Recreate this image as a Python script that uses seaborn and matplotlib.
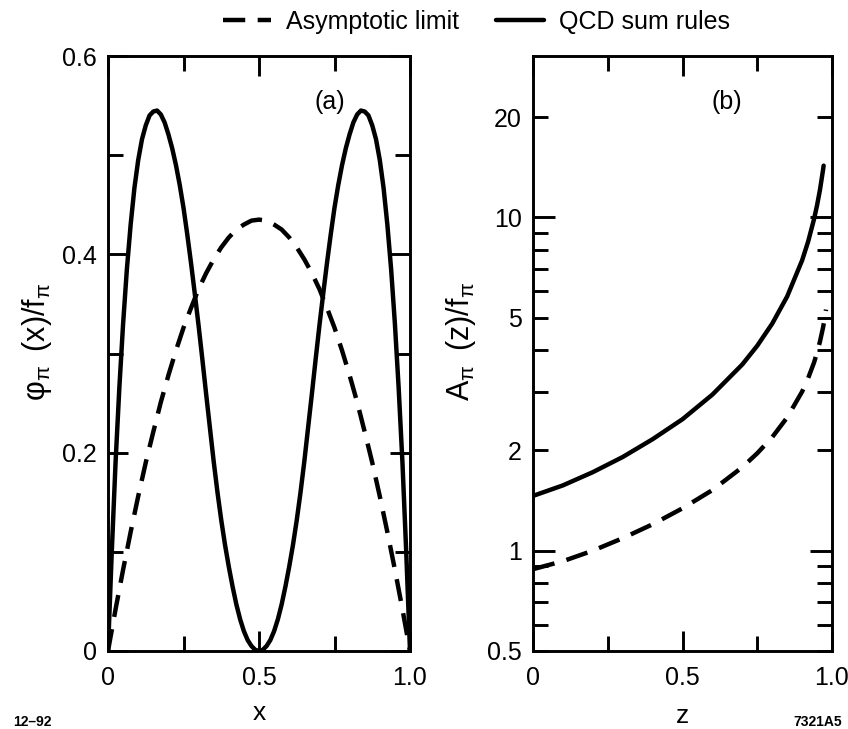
import numpy as np
import pandas as pd
import matplotlib
matplotlib.use("Agg")
import matplotlib.pyplot as plt
from matplotlib.lines import Line2D
from matplotlib.ticker import FixedLocator, NullFormatter
import seaborn as sns

# ---- panel (a): pion distribution amplitude phi_pi(x)/f_pi ----
x_asym = [0.0, 0.025, 0.05, 0.075, 0.1, 0.125, 0.15, 0.175, 0.2, 0.225,
          0.25, 0.275, 0.3, 0.325, 0.35, 0.375, 0.4, 0.425, 0.45, 0.475,
          0.5, 0.525, 0.55, 0.575, 0.6, 0.625, 0.65, 0.675, 0.7, 0.725,
          0.75, 0.775, 0.8, 0.825, 0.85, 0.875, 0.9, 0.925, 0.95, 0.975, 1.0]
phi_asymptotic = [0.0, 0.042, 0.082, 0.120, 0.156, 0.190, 0.221, 0.251, 0.278, 0.303,
                  0.326, 0.346, 0.365, 0.381, 0.395, 0.407, 0.417, 0.425, 0.430, 0.434,
                  0.435, 0.434, 0.430, 0.425, 0.417, 0.407, 0.395, 0.381, 0.365, 0.346,
                  0.326, 0.303, 0.278, 0.251, 0.221, 0.190, 0.156, 0.120, 0.082, 0.042, 0.0]

x_qcd = [0.0, 0.0125, 0.025, 0.0375, 0.05, 0.0625, 0.075, 0.0875, 0.1, 0.1125,
         0.125, 0.1375, 0.15, 0.1625, 0.175, 0.1875, 0.2, 0.2125, 0.225, 0.2375,
         0.25, 0.2625, 0.275, 0.2875, 0.3, 0.3125, 0.325, 0.3375, 0.35, 0.3625,
         0.375, 0.3875, 0.4, 0.4125, 0.425, 0.4375, 0.45, 0.4625, 0.475, 0.4875,
         0.5, 0.5125, 0.525, 0.5375, 0.55, 0.5625, 0.575, 0.5875, 0.6, 0.6125,
         0.625, 0.6375, 0.65, 0.6625, 0.675, 0.6875, 0.7, 0.7125, 0.725, 0.7375,
         0.75, 0.7625, 0.775, 0.7875, 0.8, 0.8125, 0.825, 0.8375, 0.85, 0.8625,
         0.875, 0.8875, 0.9, 0.9125, 0.925, 0.9375, 0.95, 0.9625, 0.975, 0.9875, 1.0]
phi_qcd = [0.0, 0.10, 0.19, 0.265, 0.33, 0.385, 0.43, 0.467, 0.495, 0.516,
           0.530, 0.540, 0.544, 0.545, 0.541, 0.533, 0.521, 0.507, 0.490, 0.470,
           0.447, 0.420, 0.391, 0.360, 0.328, 0.294, 0.259, 0.225, 0.191, 0.160,
           0.132, 0.107, 0.085, 0.065, 0.047, 0.032, 0.020, 0.011, 0.005, 0.0012,
           0.0, 0.0012, 0.005, 0.011, 0.020, 0.032, 0.047, 0.065, 0.085, 0.107,
           0.132, 0.160, 0.191, 0.225, 0.259, 0.294, 0.328, 0.360, 0.391, 0.420,
           0.447, 0.470, 0.490, 0.507, 0.521, 0.533, 0.541, 0.545, 0.544, 0.540,
           0.530, 0.516, 0.495, 0.467, 0.43, 0.385, 0.33, 0.265, 0.19, 0.10, 0.0]

# ---- panel (b): A_pi(z)/f_pi on a log scale ----
z_asym = [0.0, 0.1, 0.2, 0.3, 0.4, 0.5, 0.6, 0.7, 0.75, 0.8, 0.85, 0.9,
          0.92, 0.94, 0.95, 0.96, 0.97, 0.975, 0.98]
a_asymptotic = [0.88, 0.93, 1.00, 1.09, 1.20, 1.34, 1.52, 1.78, 1.96, 2.19, 2.51, 3.00,
                3.29, 3.67, 3.93, 4.25, 4.67, 4.94, 5.29]
z_qcd = [0.0, 0.1, 0.2, 0.3, 0.4, 0.5, 0.6, 0.7, 0.75, 0.8, 0.85, 0.9,
         0.92, 0.94, 0.95, 0.96, 0.97, 0.972]
a_qcd = [1.46, 1.57, 1.72, 1.91, 2.16, 2.48, 2.94, 3.62, 4.12, 4.80, 5.79, 7.43,
         8.45, 9.89, 10.87, 12.13, 13.88, 14.3]

legend_labels = ["Asymptotic limit", "QCD sum rules"]
x_ticks = [0, 0.5, 1.0]
x_ticklabels = ["0", "0.5", "1.0"]
phi_ticks = [0, 0.2, 0.4, 0.6]
phi_ticklabels = ["0", "0.2", "0.4", "0.6"]
a_ticks = [0.5, 1, 2, 5, 10, 20]
a_ticklabels = ["0.5", "1", "2", "5", "10", "20"]

sns.set_style("ticks")
plt.rcParams["font.family"] = ["Liberation Sans", "DejaVu Sans"]
plt.rcParams["mathtext.fontset"] = "custom"
plt.rcParams["mathtext.rm"] = "Liberation Sans"
plt.rcParams["mathtext.it"] = "Liberation Sans"
for key in ("text.color", "axes.labelcolor", "xtick.color", "ytick.color",
            "axes.edgecolor"):
    plt.rcParams[key] = "black"

LW = 3.2
DASH = (0, (5.0, 2.8))
SPINE = 2.1

fig = plt.figure(figsize=(8.48, 7.29), dpi=100)
ax1 = fig.add_axes([108 / 848, 78 / 729, 302 / 848, 595 / 729])
ax2 = fig.add_axes([533 / 848, 78 / 729, 299 / 848, 595 / 729])

df_asym = pd.DataFrame({"x": x_asym, "phi": phi_asymptotic})
df_qcd = pd.DataFrame({"x": x_qcd, "phi": phi_qcd})
df_b_asym = pd.DataFrame({"z": z_asym, "a": a_asymptotic})
df_b_qcd = pd.DataFrame({"z": z_qcd, "a": a_qcd})

sns.lineplot(data=df_asym, x="x", y="phi", ax=ax1, color="black", lw=LW, ls=DASH,
             estimator=None, sort=False)
sns.lineplot(data=df_qcd, x="x", y="phi", ax=ax1, color="black", lw=LW,
             estimator=None, sort=False)
sns.lineplot(data=df_b_asym, x="z", y="a", ax=ax2, color="black", lw=LW, ls=DASH,
             estimator=None, sort=False)
sns.lineplot(data=df_b_qcd, x="z", y="a", ax=ax2, color="black", lw=LW,
             estimator=None, sort=False)
for ax in (ax1, ax2):
    for ln in ax.lines:
        ln.set_solid_joinstyle("round")
        ln.set_dash_joinstyle("round")

for ax in (ax1, ax2):
    for sp in ax.spines.values():
        sp.set_linewidth(SPINE)
        sp.set_visible(True)
        sp.set_color("black")
    ax.set_xlim(0, 1.0)
    ax.set_xticks(x_ticks)
    ax.set_xticklabels(x_ticklabels)
    ax.xaxis.set_minor_locator(FixedLocator([0.25, 0.75]))
    ax.tick_params(which="both", direction="in", top=True, right=True,
                   width=SPINE, labelsize=18, pad=8, color="black",
                   labelcolor="black")
    ax.tick_params(which="major", length=14.5)
    ax.tick_params(which="minor", length=10.5)
    ax.tick_params(axis="x", pad=11)

ax1.set_ylim(0, 0.6)
ax1.set_yticks(phi_ticks)
ax1.set_yticklabels(phi_ticklabels)
ax1.yaxis.set_minor_locator(FixedLocator([0.1, 0.3, 0.5]))

ax2.set_yscale("log")
ax2.set_ylim(0.5, 30.5)
ax2.yaxis.set_major_locator(FixedLocator(a_ticks))
ax2.set_yticklabels(a_ticklabels)
ax2.yaxis.set_minor_locator(FixedLocator([0.6, 0.7, 0.8, 0.9, 3, 4, 6, 7, 8, 9]))
ax2.yaxis.set_minor_formatter(NullFormatter())
ax2.tick_params(axis="y", which="major", length=10.5)
for t, v in zip(ax2.yaxis.get_major_ticks(), a_ticks):
    if v in (1, 10):
        t.tick1line.set_markersize(16)
        t.tick2line.set_markersize(16)

ax1.set_xlabel("x", fontsize=19, labelpad=8)
ax2.set_xlabel("z", fontsize=19, labelpad=10)
ax1.set_ylabel(r"$\mathregular{φ_{π}\;\;(x)/f_{π}}$", fontsize=22)
ax2.set_ylabel(r"$\mathregular{A_{π}\;\;(z)/f_{π}}$", fontsize=22)
ax1.yaxis.set_label_coords((54 - 108) / 302, 0.52)
ax2.yaxis.set_label_coords((478 - 533) / 299, 0.52)

ax1.text(0.735, 0.923, "(a)", transform=ax1.transAxes, fontsize=18,
         ha="center", va="center")
ax2.text(0.649, 0.923, "(b)", transform=ax2.transAxes, fontsize=18,
         ha="center", va="center")

handles = [Line2D([], [], color="black", lw=LW, ls=DASH),
           Line2D([], [], color="black", lw=LW)]
fig.legend(handles, legend_labels, loc="center", ncol=2, frameon=False,
           bbox_to_anchor=(0.562, 1 - 22 / 729), fontsize=18,
           handlelength=1.9, handletextpad=0.6, columnspacing=1.5)

fig.text(13 / 848, 1 - 722 / 729, "12\u201392", fontsize=10, fontweight="bold",
         ha="left", va="center")
fig.text(842 / 848, 1 - 722 / 729, "7321A5", fontsize=10, fontweight="bold",
         ha="right", va="center")

fig.savefig("out.png", dpi=100)
